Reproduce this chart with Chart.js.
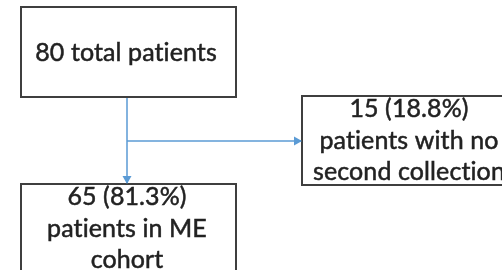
<!DOCTYPE html>
<html>
<head>
<meta charset="utf-8">
<script src="https://cdn.jsdelivr.net/npm/chart.js@4/dist/chart.umd.min.js"></script>
<style>
html,body{margin:0;padding:0;background:#fff;}
#wrap{width:502px;height:270px;}
</style>
</head>
<body>
<div id="wrap"><canvas id="c" width="502" height="270"></canvas></div>
<script>
// ---- data ----
const nodeCounts = [80, 15, 65];
const nodePercents = [null, 18.8, 81.3];
const nodeLabels = [
  ["total patients"],
  ["patients with no", "second collection"],
  ["patients in ME", "cohort"]
];

// ---- layout (diagram units = pixels of a 502x270 frame) ----
const boxes = [
  {x0: 21, y0: 7, x1: 236, y1: 97, cx: 126, ty: 61},
  {x0: 302, y0: 96, x1: 520, y1: 185, cx: 409, ty: 117},
  {x0: 21, y0: 184, x1: 236, y1: 300, cx: 127, ty: 205}
];
const connectors = [
  [{x: 127, y: 97}, {x: 127, y: 184}],
  [{x: 127, y: 141}, {x: 302, y: 141}]
];
const lineGap = 31.5;
const lineColor = '#5B9BD5';

function nodeLines(i) {
  if (nodePercents[i] === null) return [nodeCounts[i] + ' ' + nodeLabels[i].join(' ')];
  return [nodeCounts[i] + ' (' + nodePercents[i].toFixed(1) + '%)'].concat(nodeLabels[i]);
}

const boxPlugin = {
  id: 'boxes',
  afterDatasetsDraw(chart) {
    const ctx = chart.ctx, xs = chart.scales.x, ys = chart.scales.y;
    ctx.save();
    boxes.forEach((b, i) => {
      const x0 = xs.getPixelForValue(b.x0), x1 = xs.getPixelForValue(b.x1);
      const y0 = ys.getPixelForValue(b.y0), y1 = ys.getPixelForValue(b.y1);
      ctx.fillStyle = '#fff';
      ctx.fillRect(x0, y0, x1 - x0, y1 - y0);
      ctx.strokeStyle = '#3f3f3f';
      ctx.lineWidth = 2;
      ctx.strokeRect(x0, y0, x1 - x0, y1 - y0);
      ctx.fillStyle = '#222';
      ctx.strokeStyle = '#222';
      ctx.lineWidth = 0.5;
      ctx.font = '25px Lato, "Open Sans", sans-serif';
      if ('letterSpacing' in ctx) ctx.letterSpacing = '0.1px';
      ctx.textAlign = 'center';
      ctx.textBaseline = 'alphabetic';
      nodeLines(i).forEach((t, k) => {
        const tx = xs.getPixelForValue(b.cx), ty = ys.getPixelForValue(b.ty + k * lineGap);
        ctx.fillText(t, tx, ty);
        ctx.strokeText(t, tx, ty);
      });
    });
    // arrowheads
    ctx.fillStyle = lineColor;
    connectors.forEach(seg => {
      const a = seg[0], e = seg[1];
      const px = xs.getPixelForValue(e.x), py = ys.getPixelForValue(e.y);
      const qx = xs.getPixelForValue(a.x), qy = ys.getPixelForValue(a.y);
      const ang = Math.atan2(py - qy, px - qx);
      const L = 8, W = 4.5;
      ctx.beginPath();
      ctx.moveTo(px, py);
      ctx.lineTo(px - L * Math.cos(ang) + W * Math.sin(ang), py - L * Math.sin(ang) - W * Math.cos(ang));
      ctx.lineTo(px - L * Math.cos(ang) - W * Math.sin(ang), py - L * Math.sin(ang) + W * Math.cos(ang));
      ctx.closePath();
      ctx.fill();
    });
    ctx.restore();
  }
};

new Chart(document.getElementById('c'), {
  type: 'scatter',
  data: {
    datasets: connectors.map(seg => ({
      data: seg,
      showLine: true,
      borderColor: lineColor,
      borderWidth: 1.5,
      pointRadius: 0,
      fill: false
    }))
  },
  options: {
    responsive: false,
    animation: false,
    layout: {padding: 0},
    plugins: {legend: {display: false}, tooltip: {enabled: false}},
    scales: {
      x: {type: 'linear', min: 0, max: 502, display: false},
      y: {type: 'linear', min: 0, max: 270, reverse: true, display: false}
    }
  },
  plugins: [boxPlugin]
});
</script>
</body>
</html>
